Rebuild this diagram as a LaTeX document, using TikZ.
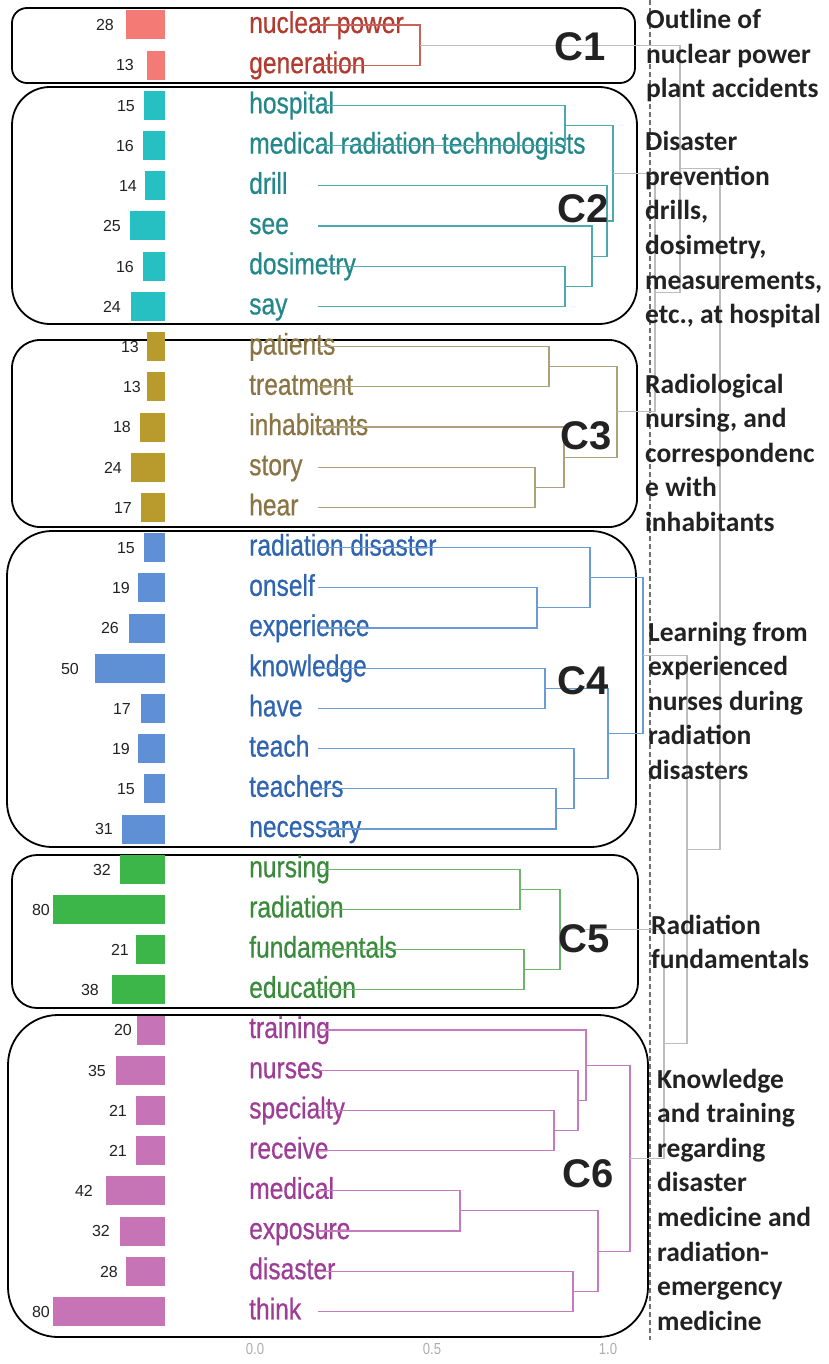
\documentclass[tikz,border=0pt]{standalone}
\usepackage{fontspec}
\setmainfont{Liberation Sans}
\newfontfamily\wordfont[FakeStretch=0.82,FakeBold=0.6]{Liberation Sans}
\newfontfamily\axfont[FakeStretch=0.82]{Liberation Sans}
\newfontfamily\calfont{Carlito}
\definecolor{c1bar}{HTML}{F47B75}\definecolor{c1txt}{HTML}{B23A2F}\definecolor{c1ln}{HTML}{C9625A}
\definecolor{c2bar}{HTML}{26BFC2}\definecolor{c2txt}{HTML}{24878A}\definecolor{c2ln}{HTML}{4AAAAD}
\definecolor{c3bar}{HTML}{B99A2C}\definecolor{c3txt}{HTML}{8A7444}\definecolor{c3ln}{HTML}{ADA17C}
\definecolor{c4bar}{HTML}{5F8FD5}\definecolor{c4txt}{HTML}{2F64B0}\definecolor{c4ln}{HTML}{6A9BD6}
\definecolor{c5bar}{HTML}{3DB649}\definecolor{c5txt}{HTML}{3A8A3B}\definecolor{c5ln}{HTML}{6EB46E}
\definecolor{c6bar}{HTML}{C774B6}\definecolor{c6txt}{HTML}{9E3D96}\definecolor{c6ln}{HTML}{C57BBE}
\definecolor{greyl}{HTML}{BDBDBD}\definecolor{dashcol}{HTML}{707070}
\definecolor{axcol}{HTML}{ADADAD}\definecolor{darktxt}{HTML}{222222}
\tikzset{
  bx/.style={draw=black, line width=1.8pt},
  word/.style={anchor=base west, inner sep=0pt, font=\wordfont\fontsize{30}{32}\selectfont},
  cnt/.style={anchor=base east, inner sep=0pt, font=\fontsize{16}{18}\selectfont, text=darktxt},
  clab/.style={font=\bfseries\fontsize{40}{44}\selectfont, inner sep=0pt, text=darktxt},
  rlab/.style={anchor=base west, inner sep=0pt, font=\calfont\bfseries\fontsize{27.5}{30}\selectfont, text=darktxt},
  axl/.style={font=\axfont\fontsize{16}{18}\selectfont, text=axcol},
  dline/.style={draw=dashcol, line width=1.1pt, dash pattern=on 5pt off 3pt},
}
\newcommand\mkrow[6]{%
  \fill[#6bar] ({165-1.4*#3},{#2-14.5}) rectangle (165,{#2+14.5});
  \node[cnt] (n#1) at (#4,{#2+5.8}) {#3};
  \node[word,text=#6txt] (w#1) at (249,{#2+8}) {#5};
  \coordinate (l#1) at (318,#2);
}
\newcommand\mg[4]{\draw[#4, line width=1.1pt] (#1) -| (#3) |- (#2);}
\begin{document}
\begin{tikzpicture}[x=1pt,y=-1pt]
\useasboundingbox (0,0) rectangle (829,1364);
% cluster boxes
\draw[bx, rounded corners=15pt] (12,8) rectangle (635,83);
\draw[bx, rounded corners=38pt] (12,87) rectangle (637,324);
\draw[bx, rounded corners=28pt] (12,340) rectangle (637,527);
\draw[bx, rounded corners=45pt] (7,531) rectangle (636,847);
\draw[bx, rounded corners=25pt] (12,855) rectangle (638,1008);
\draw[bx, rounded corners=50pt] (8,1015) rectangle (648,1337);
% rows
\mkrow{0}{25}{28}{114}{nuclear power}{c1}
\mkrow{1}{65.2}{13}{134}{generation}{c1}
\mkrow{2}{105.4}{15}{135}{hospital}{c2}
\mkrow{3}{145.6}{16}{134}{medical radiation technologists}{c2}
\mkrow{4}{185.8}{14}{137}{drill}{c2}
\mkrow{5}{226}{25}{121}{see}{c2}
\mkrow{6}{266.2}{16}{134}{dosimetry}{c2}
\mkrow{7}{306.4}{24}{121}{say}{c2}
\mkrow{8}{346.6}{13}{139}{patients}{c3}
\mkrow{9}{386.8}{13}{141}{treatment}{c3}
\mkrow{10}{427}{18}{131}{inhabitants}{c3}
\mkrow{11}{467.2}{24}{122}{story}{c3}
\mkrow{12}{507.4}{17}{132}{hear}{c3}
\mkrow{13}{547.6}{15}{135}{radiation disaster}{c4}
\mkrow{14}{587.8}{19}{130}{onself}{c4}
\mkrow{15}{628}{26}{119}{experience}{c4}
\mkrow{16}{668.2}{50}{79}{knowledge}{c4}
\mkrow{17}{708.4}{17}{131}{have}{c4}
\mkrow{18}{748.6}{19}{130}{teach}{c4}
\mkrow{19}{788.8}{15}{135}{teachers}{c4}
\mkrow{20}{829}{31}{113}{necessary}{c4}
\mkrow{21}{869.2}{32}{111}{nursing}{c5}
\mkrow{22}{909.4}{80}{50}{radiation}{c5}
\mkrow{23}{949.6}{21}{129}{fundamentals}{c5}
\mkrow{24}{989.8}{38}{99}{education}{c5}
\mkrow{25}{1030}{20}{132}{training}{c6}
\mkrow{26}{1070.2}{35}{106}{nurses}{c6}
\mkrow{27}{1110.4}{21}{127}{specialty}{c6}
\mkrow{28}{1150.6}{21}{127}{receive}{c6}
\mkrow{29}{1190.8}{42}{93}{medical}{c6}
\mkrow{30}{1231}{32}{110}{exposure}{c6}
\mkrow{31}{1271.2}{28}{118}{disaster}{c6}
\mkrow{32}{1311.4}{80}{50}{think}{c6}
% merge points
\coordinate (m1) at (420,45.1);
\coordinate (m2a) at (565,125.5);
\coordinate (m2b) at (565,286.3);
\coordinate (m2c) at (592,256.15);
\coordinate (m2d) at (607,220.98);
\coordinate (m2) at (613,173.2);
\coordinate (m3a) at (549,366.7);
\coordinate (m3b) at (535,487.3);
\coordinate (m3c) at (564,457.15);
\coordinate (m3) at (617,411.9);
\coordinate (m4a) at (537,607.9);
\coordinate (m4b) at (590,577.75);
\coordinate (m4c) at (545,688.3);
\coordinate (m4d) at (556,808.9);
\coordinate (m4e) at (574,778.75);
\coordinate (m4f) at (608,733.5);
\coordinate (m4) at (643,655.6);
\coordinate (m5a) at (520,889.3);
\coordinate (m5b) at (524,969.7);
\coordinate (m5) at (560,929.5);
\coordinate (m6a) at (554,1130.5);
\coordinate (m6b) at (578,1100.35);
\coordinate (m6c) at (586,1065.2);
\coordinate (m6d) at (460,1210.9);
\coordinate (m6e) at (573,1291.3);
\coordinate (m6f) at (598,1251.1);
\coordinate (m6) at (630,1158.15);
\coordinate (g23) at (655,292.55);
\coordinate (g123) at (680,168.8);
\coordinate (g56) at (664,1043.8);
\coordinate (g456) at (687,849.7);
\coordinate (rt) at (720,509.3);
% dashed cut line
\coordinate (dtop) at (650,0);
\coordinate (dbot) at (650,1340);
\draw[dline] (dtop) -- (dbot);
% dendrogram
\mg{l0}{l1}{m1}{c1ln}
\mg{l2}{l3}{m2a}{c2ln}
\mg{l6}{l7}{m2b}{c2ln}
\mg{l5}{m2b}{m2c}{c2ln}
\mg{l4}{m2c}{m2d}{c2ln}
\mg{m2a}{m2d}{m2}{c2ln}
\mg{l8}{l9}{m3a}{c3ln}
\mg{l11}{l12}{m3b}{c3ln}
\mg{l10}{m3b}{m3c}{c3ln}
\mg{m3a}{m3c}{m3}{c3ln}
\mg{l14}{l15}{m4a}{c4ln}
\mg{l13}{m4a}{m4b}{c4ln}
\mg{l16}{l17}{m4c}{c4ln}
\mg{l19}{l20}{m4d}{c4ln}
\mg{l18}{m4d}{m4e}{c4ln}
\mg{m4c}{m4e}{m4f}{c4ln}
\mg{m4b}{m4f}{m4}{c4ln}
\mg{l21}{l22}{m5a}{c5ln}
\mg{l23}{l24}{m5b}{c5ln}
\mg{m5a}{m5b}{m5}{c5ln}
\mg{l27}{l28}{m6a}{c6ln}
\mg{l26}{m6a}{m6b}{c6ln}
\mg{l25}{m6b}{m6c}{c6ln}
\mg{l29}{l30}{m6d}{c6ln}
\mg{l31}{l32}{m6e}{c6ln}
\mg{m6d}{m6e}{m6f}{c6ln}
\mg{m6c}{m6f}{m6}{c6ln}
\mg{m2}{m3}{g23}{greyl}
\mg{m1}{g23}{g123}{greyl}
\mg{m5}{m6}{g56}{greyl}
\mg{m4}{g56}{g456}{greyl}
\mg{g123}{g456}{rt}{greyl}
% cluster labels
\node[clab] (C1) at (580,47) {C1};
\node[clab] (C2) at (583,209) {C2};
\node[clab] (C3) at (586,436) {C3};
\node[clab] (C4) at (583,681) {C4};
\node[clab] (C5) at (584,939) {C5};
\node[clab] (C6) at (588,1174) {C6};
% right labels
\foreach \t [count=\k from 0] in {Outline of, nuclear power, plant accidents}
  \node[rlab] (ra\k) at (646,{29+34.5*\k}) {\t};
\foreach \t [count=\k from 0] in {Disaster, prevention, {drills,}, {dosimetry,}, {measurements,}, {etc., at hospital}}
  \node[rlab] (rb\k) at (645,{151+34.5*\k}) {\t};
\foreach \t [count=\k from 0] in {Radiological, {nursing, and}, correspondenc, e with, inhabitants}
  \node[rlab] (rc\k) at (645,{393+34.5*\k}) {\t};
\foreach \t [count=\k from 0] in {Learning from, experienced, nurses during, radiation, disasters}
  \node[rlab] (rd\k) at (648,{641+34.5*\k}) {\t};
\foreach \t [count=\k from 0] in {Radiation, fundamentals}
  \node[rlab] (re\k) at (651,{934+34.5*\k}) {\t};
\foreach \t [count=\k from 0] in {Knowledge, and training, regarding, disaster, medicine and, radiation-, emergency, medicine}
  \node[rlab] (rf\k) at (657,{1088+34.6*\k}) {\t};
% axis labels
\node[axl] (ax0) at (255,1349) {0.0};
\node[axl] (ax1) at (432,1349) {0.5};
\node[axl] (ax2) at (608,1349) {1.0};
\end{tikzpicture}
\end{document}
